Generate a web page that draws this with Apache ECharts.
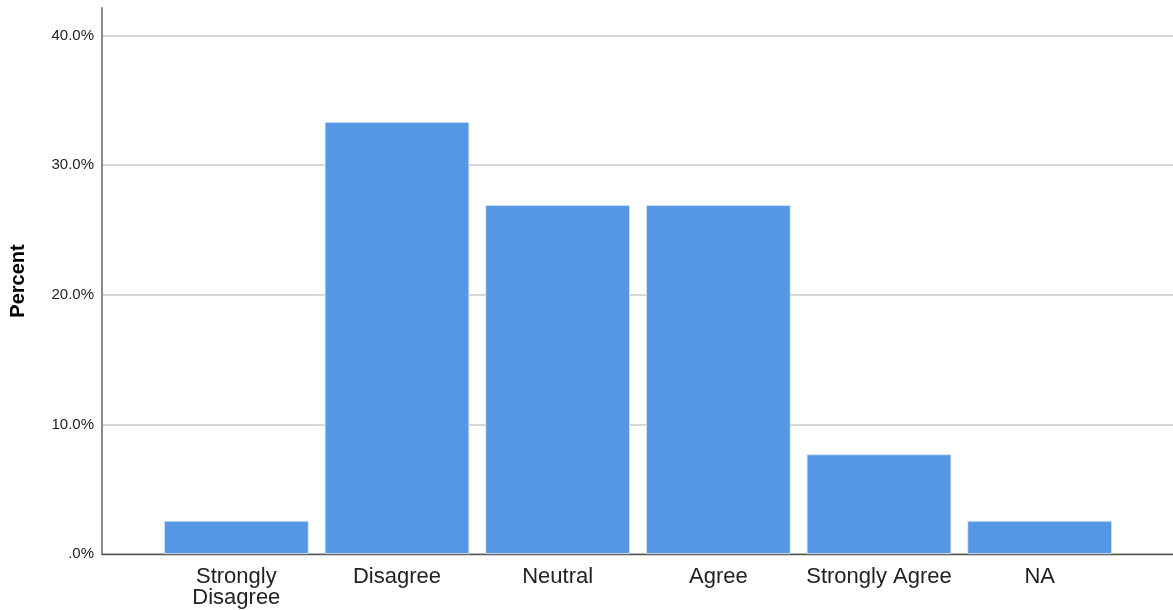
<!DOCTYPE html>
<html>
<head>
<meta charset="utf-8">
<script src="https://cdn.jsdelivr.net/npm/echarts@6/dist/echarts.min.js"></script>
<style>
html,body{margin:0;padding:0;background:#fff;}
#chart{width:1173px;height:610px;}
</style>
</head>
<body>
<div id="chart"></div>
<script>
const categories = ['Strongly\nDisagree', 'Disagree', 'Neutral', 'Agree', 'Strongly Agree', 'NA'];
const percents = [2.56, 33.33, 26.92, 26.92, 7.69, 2.56];
const yTicks = [0, 10, 20, 30, 40];
const yAxisTitle = 'Percent';

const chart = echarts.init(document.getElementById('chart'), null, {renderer: 'canvas'});
const font = 'Liberation Sans, Arial, sans-serif';
const option = {
  animation: false,
  backgroundColor: '#ffffff',
  grid: [
    {left: 102, right: 0, top: 8, bottom: 56},
    {left: 102, right: 0, top: 35.5, bottom: 56},
    {left: 156, right: 53, top: 35.5, bottom: 56}
  ],
  xAxis: [
    {gridIndex: 0, type: 'value', min: 0, max: 1, axisLine: {show: true, lineStyle: {color: '#555', width: 1.3}},
     axisTick: {show: false}, axisLabel: {show: false}, splitLine: {show: false}},
    {gridIndex: 1, type: 'value', min: 0, max: 1, show: false},
    {gridIndex: 2, type: 'category', data: categories,
     axisLine: {show: false}, axisTick: {show: false},
     axisLabel: {color: '#222', fontFamily: font, fontSize: 22, lineHeight: 21, margin: 12, interval: 0}}
  ],
  yAxis: [
    {gridIndex: 0, type: 'value', min: 0, max: 1,
     axisLine: {show: true, lineStyle: {color: '#8a8a8a', width: 2}},
     axisTick: {show: false}, axisLabel: {show: false}, splitLine: {show: false},
     name: yAxisTitle, nameLocation: 'middle', nameRotate: 90, nameGap: 74,
     nameTextStyle: {fontFamily: font, fontSize: 20, fontWeight: 'bold', color: '#000'}},
    {gridIndex: 1, type: 'value', min: yTicks[0], max: yTicks[yTicks.length - 1], interval: 10,
     axisLine: {show: false}, axisTick: {show: false},
     axisLabel: {color: '#222', fontFamily: font, fontSize: 15, margin: 8, padding: [4, 0, 0, 0],
       formatter: v => v === 0 ? '.0%' : v.toFixed(1) + '%'},
     splitLine: {show: true, lineStyle: {color: '#c8c8c8', width: 1.5}}},
    {gridIndex: 2, type: 'value', min: yTicks[0], max: yTicks[yTicks.length - 1], show: false}
  ],
  series: [
    {type: 'bar', xAxisIndex: 2, yAxisIndex: 2, data: percents, barCategoryGap: '10%',
     itemStyle: {color: '#5596e5', borderColor: '#dbe8f8', borderWidth: 0.8}}
  ]
};
chart.setOption(option);
</script>
</body>
</html>
